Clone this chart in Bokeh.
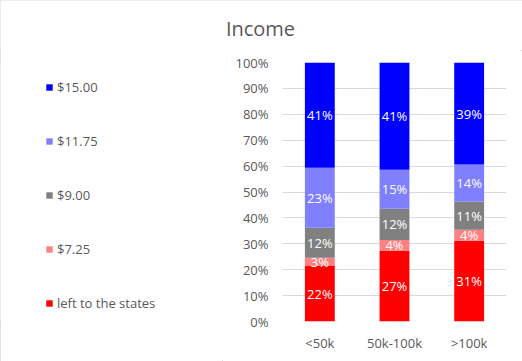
from bokeh.plotting import figure
from bokeh.layouts import column, row
from bokeh.models import (ColumnDataSource, FactorRange, Range1d, FixedTicker,
                          PrintfTickFormatter, Legend, LegendItem, Label)
from bokeh.core.properties import value
from bokeh.embed import file_html
from bokeh.resources import INLINE

categories = ["<50k", "50k-100k", ">100k"]
series_names = ["left to the states", "$7.25", "$9.00", "$11.75", "$15.00"]
left_to_states = [21.6, 27.3, 31.2]
w_7_25 = [3.0, 4.2, 4.2]
w_9_00 = [11.6, 12.0, 10.8]
w_11_75 = [23.2, 15.1, 14.4]
w_15_00 = [40.6, 41.4, 39.4]
colors = ["#FF0000", "#FF8080", "#808080", "#8080FF", "#0000FF"]
y_ticks = [0, 10, 20, 30, 40, 50, 60, 70, 80, 90, 100]
chart_title = "Income"

TXT = "#595959"
FONT = "Open Sans"

keys = ["s0", "s1", "s2", "s3", "s4"]
series_vals = [left_to_states, w_7_25, w_9_00, w_11_75, w_15_00]
data = {"cat": categories}
for k, v in zip(keys, series_vals):
    data[k] = v
src = ColumnDataSource(data)

# data label source
lx, ly, lt = [], [], []
for i, c in enumerate(categories):
    cum = 0.0
    for v in series_vals:
        val = v[i]
        lx.append(c)
        ly.append(cum + val / 2.0)
        lt.append(f"{int(val + 0.5)}%")
        cum += val
lbl = ColumnDataSource({"x": lx, "y": ly, "t": lt})

# ---- title strip ----
pt = figure(width=522, height=50, x_range=Range1d(0, 522), y_range=Range1d(0, 50),
            min_border=0, toolbar_location=None, output_backend="svg",
            outline_line_color=None, x_axis_location=None, y_axis_location=None)
pt.grid.visible = False
pt.add_layout(Label(x=261, y=0, x_units="screen", y_units="screen", text=chart_title,
                    x_offset=-1, y_offset=22,
                    text_align="center", text_baseline="middle",
                    text_font=FONT, text_font_size="20px", text_color=TXT))

# ---- legend panel (proxy renderers kept outside the visible range) ----
pl = figure(width=222, height=311, x_range=Range1d(0, 1), y_range=Range1d(0, 1),
            min_border=0, toolbar_location=None, output_backend="svg",
            outline_line_color=None, x_axis_location=None, y_axis_location=None)
pl.grid.visible = False
proxy = ColumnDataSource({"x": [-10.0], "top": [-10.0], "bottom": [-11.0]})
leg_rs = [pl.vbar(x="x", top="top", bottom="bottom", width=0.1, source=proxy,
                  fill_color=c, line_color=None) for c in colors]
items = [LegendItem(label=n, renderers=[r]) for n, r in zip(series_names, leg_rs)]
items.reverse()
legend = Legend(items=items, location=(45, 8), orientation="vertical",
                glyph_width=8, glyph_height=8, label_height=20,
                spacing=34, padding=0, margin=0, label_standoff=4,
                border_line_color=None, background_fill_alpha=0,
                label_text_font=FONT, label_text_font_size="13px",
                label_text_color=TXT)
pl.add_layout(legend)

# ---- main chart ----
p = figure(x_range=FactorRange(*categories, range_padding=0),
           y_range=Range1d(0, 100),
           width=300, height=311, output_backend="svg", toolbar_location=None,
           min_border_left=60, min_border_right=16, min_border_top=12,
           min_border_bottom=40, outline_line_color=None)

rs = p.vbar_stack(keys, x="cat", width=0.4, source=src,
                  fill_color=colors, line_color=None)

p.text(x="x", y="y", text="t", source=lbl, text_color="white",
       text_font=value(FONT), text_font_size="13px",
       text_align="center", text_baseline="middle")

p.yaxis.ticker = FixedTicker(ticks=y_ticks)
p.yaxis.formatter = PrintfTickFormatter(format="%d%%")
for ax in (p.xaxis[0], p.yaxis[0]):
    ax.axis_line_color = None
    ax.major_tick_line_color = None
    ax.minor_tick_line_color = None
    ax.major_tick_out = 0
    ax.major_tick_in = 0
    ax.major_label_text_font = FONT
    ax.major_label_text_font_size = "13px"
    ax.major_label_text_color = TXT
p.yaxis.major_label_standoff = 14
p.xaxis.major_label_standoff = 12

p.ygrid.ticker = FixedTicker(ticks=y_ticks)
p.ygrid.grid_line_color = "#d9d9d9"
p.xgrid.grid_line_color = None

layout = column(pt, row(pl, p, spacing=0), spacing=0)
layout.styles = {"outline": "1px solid #d9d9d9", "outline-offset": "-1px"}

open("out.html", "w").write(file_html(layout, INLINE))
